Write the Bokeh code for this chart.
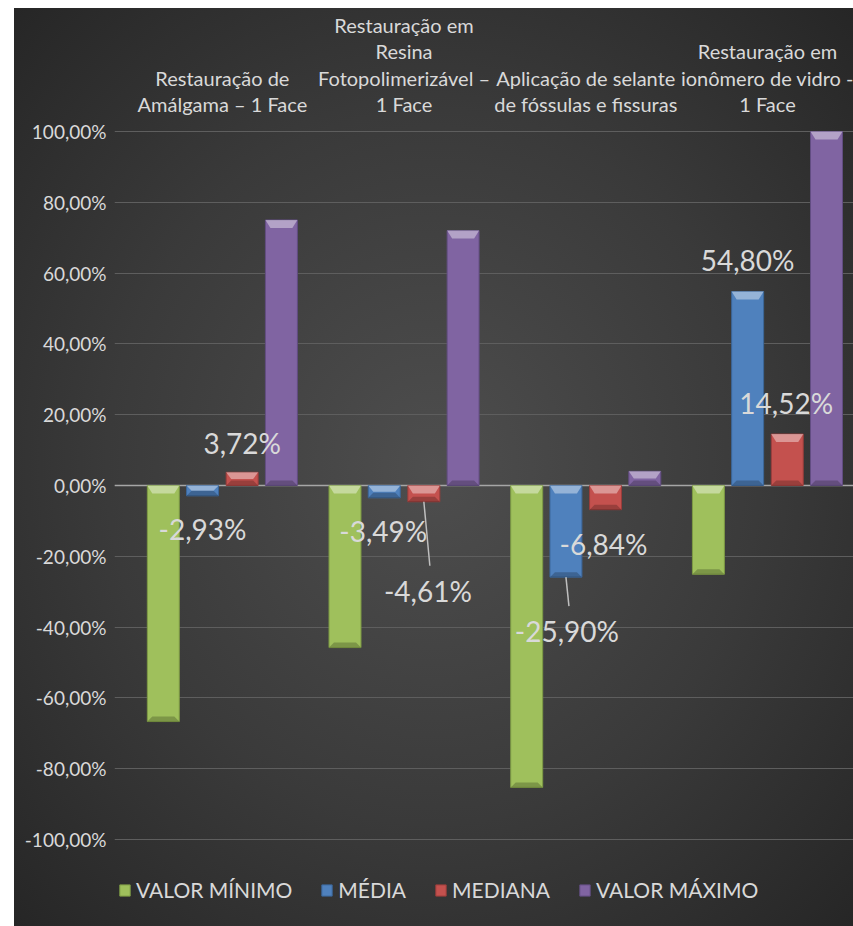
from bokeh.plotting import figure
from bokeh.models import Range1d, FixedTicker, Grid, Legend, LegendItem, ColumnDataSource, Spacer
from bokeh.layouts import row, column
from bokeh.core.properties import value
from bokeh.embed import file_html
from bokeh.resources import INLINE

# ---------------- data ----------------
categories = [
    "Restauração de\nAmálgama – 1 Face",
    "Restauração em\nResina\nFotopolimerizável –\n1 Face",
    "Aplicação de selante\nde fóssulas e fissuras",
    "Restauração em\nionômero de vidro -\n1 Face",
]
series_names = ["VALOR MÍNIMO", "MÉDIA", "MEDIANA", "VALOR MÁXIMO"]
valor_minimo = [-66.7, -45.8, -85.3, -25.1]
media = [-2.93, -3.49, -25.90, 54.80]
mediana = [3.72, -4.61, -6.84, 14.52]
valor_maximo = [75.0, 72.0, 4.0, 100.0]
y_ticks = [-100, -80, -60, -40, -20, 0, 20, 40, 60, 80, 100]
y_tick_labels = ["-100,00%", "-80,00%", "-60,00%", "-40,00%", "-20,00%", "0,00%",
                 "20,00%", "40,00%", "60,00%", "80,00%", "100,00%"]

# ---------------- style / layout ----------------
FONT = "Lato"
TEXT_COLOR = "#d9d9d9"
colors = ["#9fc05c", "#4f81bd", "#c4514e", "#8064a2"]
edge_colors = ["#7d9a44", "#3b6699", "#9a3d3b", "#624d82"]
offsets = [-0.325, -0.109, 0.109, 0.325]
bar_w = 0.176
W, H = 839, 918
LEFT = 100
y_lo, y_hi = -124.6, 134.75
x_lo, x_hi = -0.5936, 3.4736
px_per_y = H / (y_hi - y_lo)
px_per_x = (W - LEFT) / (x_hi - x_lo)

# label offsets in pixels (relative to bar end), for MÉDIA and MEDIANA
lab_dx = {1: [0, -1, 1, 0], 2: [0, 4, -2, -1]}
lab_dy = {1: [33, 33, 54, -31], 2: [-29, 89, 34, -31]}
leader = {1: [False, False, True, False], 2: [False, True, False, False]}

p = figure(width=W, height=H, output_backend="svg", toolbar_location=None,
           x_range=Range1d(x_lo, x_hi), y_range=Range1d(y_lo, y_hi),
           x_axis_location=None, min_border_left=LEFT, min_border_right=0,
           min_border_top=0, min_border_bottom=0, outline_line_color=None)
p.border_fill_color = None
p.background_fill_color = None
p.styles = {"background": "radial-gradient(ellipse farthest-corner at 50% 50%, #4e4e4e 0%, #3a3a3a 55%, #262626 100%)"}

p.xgrid.visible = False
p.ygrid.ticker = FixedTicker(ticks=y_ticks)
p.ygrid.grid_line_color = "#5e5e5e"
p.ygrid.grid_line_width = 1
p.ygrid.bounds = (-0.5, x_hi)

ax = p.yaxis[0]
ax.ticker = FixedTicker(ticks=y_ticks)
ax.major_label_overrides = {t: l for t, l in zip(y_ticks, y_tick_labels)}
ax.axis_line_color = None
ax.major_tick_line_color = None
ax.minor_tick_line_color = None
ax.major_label_standoff = 2
ax.major_label_text_font = FONT
ax.major_label_text_font_size = "19px"
ax.major_label_text_color = TEXT_COLOR

series = [valor_minimo, media, mediana, valor_maximo]
renderers = []
cap_px, base_px, inset_px = 8.0, 5.0, 5.0
for j, vals in enumerate(series):
    xs = [i + offsets[j] for i in range(len(categories))]
    src = ColumnDataSource(dict(x=xs, top=vals))
    r = p.vbar(x="x", top="top", bottom=0, width=bar_w, source=src,
               fill_color=colors[j], line_color=edge_colors[j], line_width=1)
    renderers.append(r)
    # bevel: light trapezoid on the upper edge, dark one on the lower edge
    lx, ly, dxs, dys = [], [], [], []
    for x, v in zip(xs, vals):
        hi, lo = max(v, 0.0), min(v, 0.0)
        hpx = (hi - lo) * px_per_y
        ch = min(cap_px, hpx / 2) / px_per_y
        bh = min(base_px, hpx / 2) / px_per_y
        ins = min(inset_px, hpx / 2) / px_per_x
        l, rr = x - bar_w / 2, x + bar_w / 2
        lx.append([l, rr, rr - ins, l + ins])
        ly.append([hi, hi, hi - ch, hi - ch])
        dxs.append([l, rr, rr - ins, l + ins])
        dys.append([lo, lo, lo + bh, lo + bh])
    p.patches(xs=lx, ys=ly, fill_color="white", fill_alpha=0.4, line_color=None)
    p.patches(xs=dxs, ys=dys, fill_color="black", fill_alpha=0.22, line_color=None)

# zero line
p.add_layout(Grid(dimension=1, ticker=FixedTicker(ticks=[0]), bounds=(-0.5, x_hi),
                  grid_line_color="#a6a6a6", grid_line_width=1.5))

# data labels for MÉDIA and MEDIANA
for j in (1, 2):
    vals = series[j]
    xs = [i + offsets[j] for i in range(len(categories))]
    txt = [("%.2f" % v).replace(".", ",") + "%" for v in vals]
    src = ColumnDataSource(dict(x=xs, y=vals, t=txt, dx=lab_dx[j], dy=lab_dy[j]))
    p.text(x="x", y="y", text="t", x_offset="dx", y_offset="dy", source=src,
           text_align="center", text_baseline="middle", text_font=value(FONT),
           text_font_size="28px", text_color=TEXT_COLOR)
    lx0, ly0, lx1, ly1 = [], [], [], []
    for i, v in enumerate(vals):
        if leader[j][i]:
            lx0.append(xs[i])
            ly0.append(v)
            lx1.append(xs[i] + (lab_dx[j][i] + 2) / px_per_x)
            ly1.append(v - (lab_dy[j][i] - 25) / px_per_y)
    if lx0:
        p.segment(x0=lx0, y0=ly0, x1=lx1, y1=ly1, line_color="#bfbfbf", line_width=1.5)

# category labels along the top
cx, cy, ct = [], [], []
base_y = y_hi - 95.5 / px_per_y
line_step = 26.5 / px_per_y
for i, c in enumerate(categories):
    lines = c.split("\n")
    n = len(lines)
    for k, ln in enumerate(lines):
        cx.append(i)
        cy.append(base_y + (n - 1 - k) * line_step)
        ct.append(ln)
p.text(x=cx, y=cy, text=ct, text_align="center", text_baseline="middle",
       text_font=value(FONT), text_font_size="20px", text_color=TEXT_COLOR)

legend = Legend(items=[LegendItem(label=n, renderers=[r]) for n, r in zip(series_names, renderers)],
                orientation="horizontal", location=(4, 24))
legend.label_text_font = FONT
legend.label_text_font_size = "21px"
legend.label_text_color = TEXT_COLOR
legend.glyph_width = 13
legend.glyph_height = 14
legend.label_standoff = 5
legend.spacing = 28
legend.padding = 0
legend.margin = 0
legend.background_fill_alpha = 0
legend.border_line_alpha = 0
p.add_layout(legend)

layout = column(Spacer(width=853, height=8), row(Spacer(width=14, height=H), p))
open("out.html", "w").write(file_html(layout, INLINE))
